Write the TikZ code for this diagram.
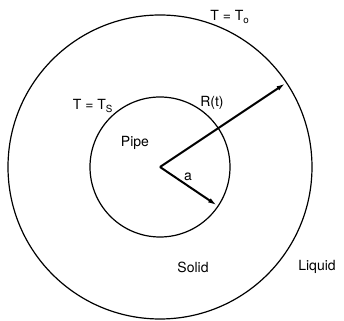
\documentclass[tikz,border=0pt]{standalone}
\usepackage{fontspec}
\setmainfont{TeX Gyre Heros}
\usepackage{tikz}
\usetikzlibrary{arrows.meta,positioning,calc}

\begin{document}
\begin{tikzpicture}[
    x=0.75pt, y=0.75pt,
    rim/.style={draw=black, line width=0.9pt},
    radius arrow/.style={line width=1.5pt, -{Latex[length=7pt,width=3.6pt]}},
    lbl/.style={font=\fontsize{10.5}{12}\selectfont, inner sep=0pt}
]
    \useasboundingbox (0,0) rectangle (344,321);

    % pipe centre and the two boundaries
    \coordinate (centre) at (160,154);
    \draw[rim] (centre) circle (152);
    \draw[rim] (centre) circle (70);

    % ends of the radii
    \coordinate (front) at ($(centre)+(33.7:151)$);
    \coordinate (wall)  at ($(centre)+(-34:69)$);
    \draw[radius arrow] (centre) -- (front);
    \draw[radius arrow] (centre) -- (wall);

    \node[lbl] (outerT) at (230,304) {T = T\textsubscript{o}};
    \node[lbl] (innerT) at (93,215) {T = T\textsubscript{S}};
    \node[lbl] (front label) at (212,218) {R(t)};
    \node[lbl] (pipe) at (135,178) {Pipe};
    \node[lbl] (radius label) at (188,144) {a};
    \node[lbl] (solid) at (193,54) {Solid};
    \node[lbl] (liquid) at (317,54) {Liquid};
\end{tikzpicture}
\end{document}
